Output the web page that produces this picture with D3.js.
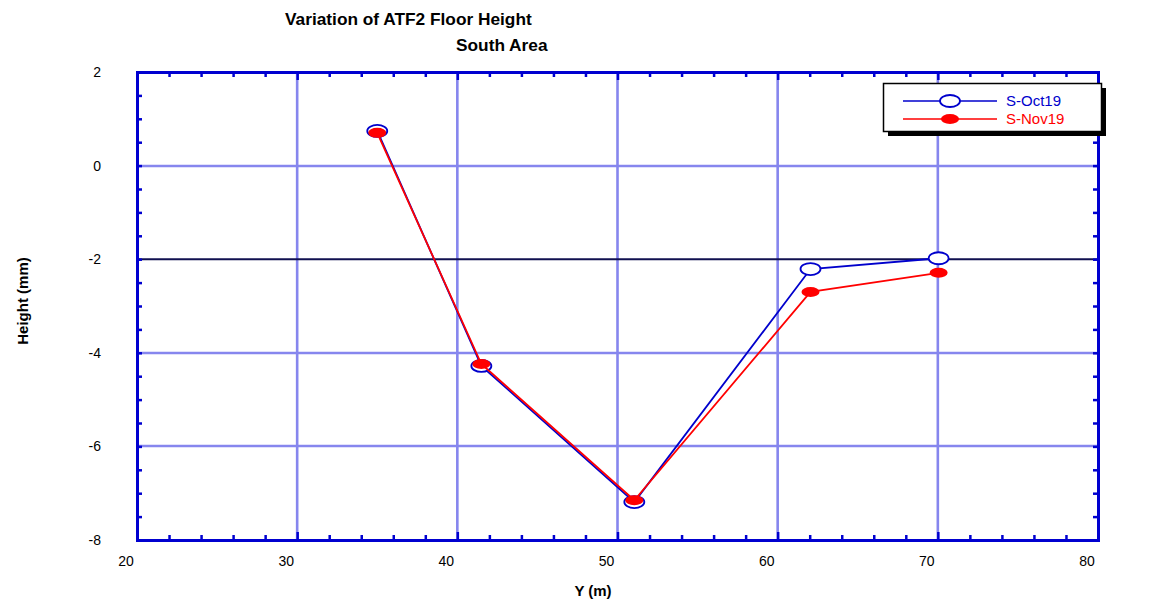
<!DOCTYPE html>
<html><head><meta charset="utf-8">
<script src="https://cdn.jsdelivr.net/npm/d3@7"></script>
<style>body{margin:0;background:#fff}svg{display:block}text{font-family:"Liberation Sans",Arial,sans-serif}</style>
</head><body>
<script>
const seriesNames = ["S-Oct19", "S-Nov19"];
const xOct = [35.0, 41.5, 51.05, 62.05, 70.05];
const yOct = [0.74, -4.28, -7.19, -2.21, -1.98];
const xNov = [35.0, 41.5, 51.05, 62.05, 70.05];
const yNov = [0.70, -4.24, -7.15, -2.70, -2.29];
const xTicks = [20, 30, 40, 50, 60, 70, 80];
const yTicks = [2, 0, -2, -4, -6, -8];
const refLine = -2;

const W = 1158, H = 602;
const L = 137, R = 1098, T = 72, B = 540;
const svg = d3.select("body").append("svg").attr("width", W).attr("height", H);
const x = d3.scaleLinear().domain([20, 80]).range([L, R]);
const y = d3.scaleLinear().domain([-8, 2]).range([B, T]);
const gridCol = "#8686ee", axCol = "#0000d0";

// grid
const g = svg.append("g");
[30,40,50,60,70].forEach(v => g.append("line").attr("x1", x(v)).attr("x2", x(v)).attr("y1", T).attr("y2", B)
  .attr("stroke", gridCol).attr("stroke-width", 2.6));
[0,-4,-6].forEach(v => g.append("line").attr("x1", L).attr("x2", R).attr("y1", Math.round(y(v))).attr("y2", Math.round(y(v)))
  .attr("stroke", gridCol).attr("stroke-width", 2.6));
g.append("line").attr("x1", L).attr("x2", R).attr("y1", y(refLine)).attr("y2", y(refLine))
  .attr("stroke", "#101050").attr("stroke-width", 2);

// axes with inward ticks
const minorX = d3.range(20, 80.01, 2);
const minorY = d3.range(-8, 2.01, 0.5);
const axB = svg.append("g").attr("transform", `translate(0,${B})`)
  .call(d3.axisBottom(x).tickValues(minorX).tickSize(-5).tickFormat(""));
const axT = svg.append("g").attr("transform", `translate(0,${T})`)
  .call(d3.axisTop(x).tickValues(minorX).tickSize(-5).tickFormat(""));
const axL = svg.append("g").attr("transform", `translate(${L},0)`)
  .call(d3.axisLeft(y).tickValues(minorY).tickSize(-5).tickFormat(""));
const axR = svg.append("g").attr("transform", `translate(${R},0)`)
  .call(d3.axisRight(y).tickValues(minorY).tickSize(-5).tickFormat(""));
[axB, axT, axL, axR].forEach(a => {
  a.selectAll("path").attr("stroke", axCol).attr("stroke-width", 3);
  a.selectAll("line").attr("stroke", axCol).attr("stroke-width", 2.5);
});
axB.selectAll(".tick line").filter(d => d % 10 === 0).attr("y2", -8);
axT.selectAll(".tick line").filter(d => d % 10 === 0).attr("y2", 8);

// tick labels
svg.append("g").selectAll("text").data(xTicks).join("text")
  .attr("x", d => x(d) - 11).attr("y", B + 26).attr("text-anchor", "middle")
  .attr("font-size", 14).attr("fill", "#000").text(d => d);
svg.append("g").selectAll("text").data(yTicks).join("text")
  .attr("x", 101).attr("y", d => y(d) + 5).attr("text-anchor", "end")
  .attr("font-size", 14).attr("fill", "#000").text(d => d);

// titles
svg.append("text").attr("x", 285).attr("y", 25).attr("font-size", 17.3).attr("font-weight", "bold")
  .attr("fill", "#000").text("Variation of ATF2 Floor Height");
svg.append("text").attr("x", 456).attr("y", 51).attr("font-size", 17.3).attr("font-weight", "bold")
  .attr("fill", "#000").text("South Area");
svg.append("text").attr("x", 593).attr("y", 596).attr("text-anchor", "middle").attr("font-size", 15)
  .attr("font-weight", "bold").attr("fill", "#000").text("Y (m)");
svg.append("text").attr("transform", "translate(28,301) rotate(-90)").attr("text-anchor", "middle")
  .attr("font-size", 15).attr("font-weight", "bold").attr("fill", "#000").text("Height (mm)");

// series
const oct = xOct.map((v, i) => [v, yOct[i]]);
const nov = xNov.map((v, i) => [v, yNov[i]]);
const line = d3.line().x(d => x(d[0])).y(d => y(d[1]));
svg.append("path").datum(oct).attr("d", line).attr("fill", "none").attr("stroke", "#0000cc").attr("stroke-width", 1.8);
svg.append("g").selectAll("ellipse").data(oct).join("ellipse")
  .attr("cx", d => x(d[0])).attr("cy", d => y(d[1])).attr("rx", 10).attr("ry", 6)
  .attr("fill", "#fff").attr("stroke", "#0000cc").attr("stroke-width", 1.8);
svg.append("path").datum(nov).attr("d", line).attr("fill", "none").attr("stroke", "#ff0000").attr("stroke-width", 1.8);
svg.append("g").selectAll("ellipse").data(nov).join("ellipse")
  .attr("cx", d => x(d[0])).attr("cy", d => y(d[1])).attr("rx", 9).attr("ry", 5)
  .attr("fill", "#ff0000");

// legend
const lg = svg.append("g");
lg.append("rect").attr("x", 888).attr("y", 88).attr("width", 218).attr("height", 48).attr("fill", "#000");
lg.append("rect").attr("x", 883.5).attr("y", 83.5).attr("width", 218).attr("height", 48)
  .attr("fill", "#fff").attr("stroke", "#000").attr("stroke-width", 1.5);
const cols = ["#0000cc", "#ff0000"];
seriesNames.forEach((n, i) => {
  const yy = 101 + i * 18;
  lg.append("line").attr("x1", 903).attr("x2", 997).attr("y1", yy).attr("y2", yy).attr("stroke", cols[i]).attr("stroke-width", 1.3);
  lg.append("ellipse").attr("cx", 950).attr("cy", yy).attr("rx", i ? 9 : 10).attr("ry", i ? 5 : 6)
    .attr("fill", i ? cols[i] : "#fff").attr("stroke", i ? "none" : cols[i]).attr("stroke-width", 1.8);
  lg.append("text").attr("x", 1006).attr("y", yy + 5).attr("font-size", 15).attr("fill", cols[i]).text(n);
});
</script>
</body></html>
